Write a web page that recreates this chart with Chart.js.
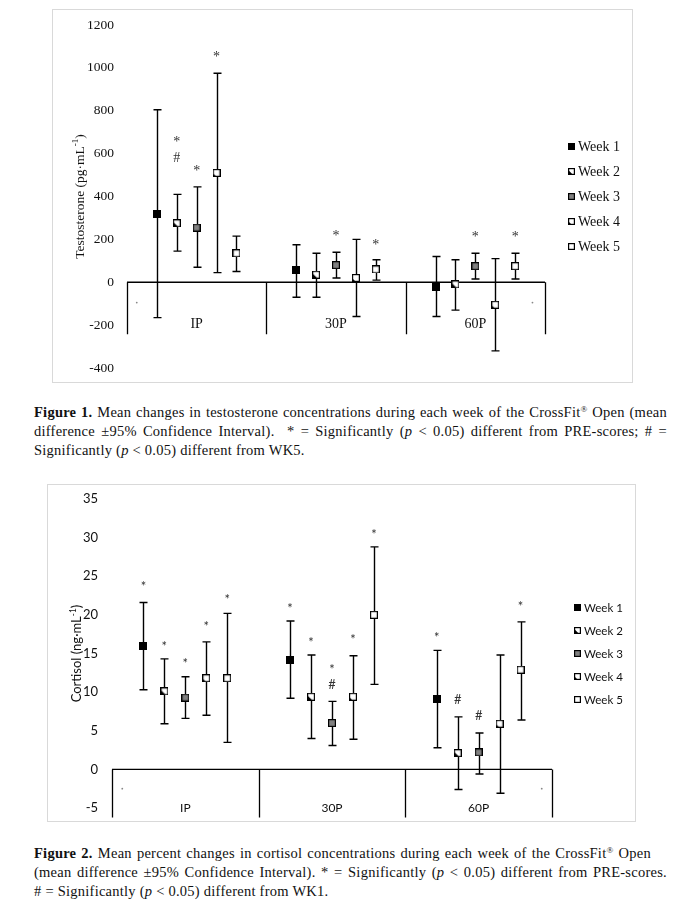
<!DOCTYPE html>
<html>
<head>
<meta charset="utf-8">
<script src="https://cdn.jsdelivr.net/npm/chart.js@4.4.1/dist/chart.umd.min.js"></script>
<style>
  body { margin: 0; background: #fff; width: 681px; height: 912px; position: relative; overflow: hidden; }
  canvas { position: absolute; }
  #fig1 { left: 52px; top: 9px; }
  #fig2 { left: 47px; top: 484px; }
  .cap { position: absolute; left: 34px; width: 633px; font-family: 'Liberation Serif', serif; font-size: 14.5px; letter-spacing: 0.25px; line-height: 19px; color: #111; }
  .cap div { text-align: justify; text-align-last: justify; white-space: nowrap; }
  .cap div.last { text-align-last: left; }
  .cap sup { font-size: 9px; line-height: 0; vertical-align: 5px; }
</style>
</head>
<body>
<canvas id="fig1" width="581" height="374"></canvas>
<div class="cap" style="top: 403px;">
  <div><b>Figure 1.</b> Mean changes in testosterone concentrations during each week of the CrossFit<sup>®</sup> Open (mean</div>
  <div>difference ±95% Confidence Interval).&nbsp; * = Significantly (<i>p</i> &lt; 0.05) different from PRE-scores; # =</div>
  <div class="last">Significantly (<i>p</i> &lt; 0.05) different from WK5.</div>
</div>
<canvas id="fig2" width="589" height="338"></canvas>
<div class="cap" style="top: 844px;">
  <div style="width: 617px;"><b>Figure 2.</b> Mean percent changes in cortisol concentrations during each week of the CrossFit<sup>®</sup> Open</div>
  <div>(mean difference ±95% Confidence Interval). * = Significantly (<i>p</i> &lt; 0.05) different from PRE-scores.</div>
  <div class="last"># = Significantly (<i>p</i> &lt; 0.05) different from WK1.</div>
</div>
<script>
const categories = ['IP', '30P', '60P'];
const weeks = ['Week 1', 'Week 2', 'Week 3', 'Week 4', 'Week 5'];

// Figure 1: testosterone (pg/mL), rows = weeks, columns = IP / 30P / 60P
const testoMean = [
  [320, 55, -20],
  [275, 35, -10],
  [255, 80, 75],
  [510, 20, -105],
  [135, 60, 75]
];
const testoUpper = [
  [805, 175, 120],
  [410, 135, 105],
  [445, 140, 135],
  [975, 200, 110],
  [215, 105, 135]
];
const testoLower = [
  [-165, -70, -160],
  [145, -70, -130],
  [70, 20, 15],
  [45, -160, -320],
  [50, 10, 15]
];
const testoTicks = [-400, -200, 0, 200, 400, 600, 800, 1000, 1200];
// [category, week, mark, value]
const testoSig = [
  ['IP', 2, '*', 668], ['IP', 2, '#', 584], ['IP', 3, '*', 533], ['IP', 4, '*', 1066],
  ['30P', 3, '*', 228], ['30P', 5, '*', 186],
  ['60P', 3, '*', 223], ['60P', 5, '*', 223]
];
const testoDots = [{ x: -0.43, y: -95 }, { x: 2.41, y: -95 }];

// Figure 2: cortisol (ng/mL)
const cortMean = [
  [16.0, 14.2, 9.1],
  [10.1, 9.4, 2.1],
  [9.3, 6.0, 2.2],
  [11.8, 9.4, 5.9],
  [11.8, 20.0, 12.9]
];
const cortUpper = [
  [21.6, 19.2, 15.4],
  [14.3, 14.8, 6.8],
  [12.0, 8.8, 4.7],
  [16.5, 14.7, 14.8],
  [20.2, 28.8, 19.1]
];
const cortLower = [
  [10.3, 9.2, 2.8],
  [5.9, 4.0, -2.6],
  [6.6, 3.1, -0.6],
  [7.0, 3.9, -3.1],
  [3.5, 11.0, 6.4]
];
const cortTicks = [-5, 0, 5, 10, 15, 20, 25, 30, 35];
const cortSig = [
  ['IP', 1, '*', 24.1], ['IP', 2, '*', 16.3], ['IP', 3, '*', 14.1], ['IP', 4, '*', 18.9], ['IP', 5, '*', 22.4],
  ['30P', 1, '*', 21.2], ['30P', 2, '*', 16.8], ['30P', 3, '*', 13.3], ['30P', 3, '#', 11.0],
  ['30P', 4, '*', 17.2], ['30P', 5, '*', 30.8],
  ['60P', 1, '*', 17.4], ['60P', 2, '#', 9.1], ['60P', 3, '#', 7.1], ['60P', 5, '*', 21.5]
];
const cortDots = [{ x: -0.43, y: -2.5 }, { x: 2.43, y: -2.5 }];

// week w (0-based) sits at a fixed offset inside its category
const weekX = (cat, w) => cat + (w - 2) / 7;

function makeMarker(kind, size) {
  const c = document.createElement('canvas');
  c.width = size; c.height = size;
  const g = c.getContext('2d');
  g.fillStyle = kind === 0 ? '#000' : kind === 2 ? '#808080' : '#fff';
  g.fillRect(0, 0, size, size);
  g.fillStyle = '#000';
  if (kind === 1) {
    g.beginPath(); g.moveTo(1, size - 1); g.lineTo(1, size * 0.4); g.lineTo(size * 0.6, size - 1); g.fill();
  }
  if (kind === 3) {
    g.beginPath(); g.moveTo(1, size - 1); g.lineTo(1, size - 3); g.lineTo(3, size - 1); g.fill();
  }
  g.strokeStyle = '#000';
  g.lineWidth = 1.2;
  g.strokeRect(0.6, 0.6, size - 1.2, size - 1.2);
  return c;
}

function drawTitle(ctx, x, yc, parts, font, supFont) {
  ctx.save();
  ctx.translate(x, yc);
  ctx.rotate(-Math.PI / 2);
  ctx.textBaseline = 'middle';
  ctx.textAlign = 'left';
  let total = 0;
  parts.forEach(([t, sup]) => { ctx.font = sup ? supFont : font; total += ctx.measureText(t).width; });
  let px = -total / 2;
  parts.forEach(([t, sup]) => {
    ctx.font = sup ? supFont : font;
    ctx.fillText(t, px, sup ? -4 : 0);
    px += ctx.measureText(t).width;
  });
  ctx.restore();
}

function buildChart(id, s) {
  const markers = [0, 1, 2, 3, 4].map(k => makeMarker(k, s.marker));
  const sets = weeks.map((name, w) => ({
    label: name,
    data: categories.map((c, i) => ({ x: weekX(i, w), y: s.mean[w][i] })),
    pointStyle: markers[w],
    pointRadius: s.marker / 2
  }));
  sets.push({ label: 'dots', data: s.dots, pointStyle: 'circle', pointRadius: 0.9, backgroundColor: '#888', borderWidth: 0 });

  const decor = {
    id: 'decor',
    beforeDraw(chart) {
      const ctx = chart.ctx;
      ctx.save();
      ctx.strokeStyle = '#d9d9d9';
      ctx.lineWidth = 1;
      ctx.strokeRect(0.5, 0.5, chart.width - 1, chart.height - 1);
      ctx.restore();
    },
    beforeDatasetsDraw(chart) {
      const ctx = chart.ctx, xs = chart.scales.x, ys = chart.scales.y;
      const y0 = ys.getPixelForValue(0);
      ctx.save();
      ctx.strokeStyle = '#000';
      ctx.lineWidth = 1.3;
      ctx.beginPath();
      ctx.moveTo(xs.getPixelForValue(-0.5), y0);
      ctx.lineTo(xs.getPixelForValue(2.5), y0);
      for (let i = 0; i <= categories.length; i++) {
        const x = Math.round(xs.getPixelForValue(i - 0.5)) + 0.5;
        ctx.moveTo(x, y0);
        ctx.lineTo(x, y0 + s.sepLen);
      }
      ctx.stroke();
      ctx.fillStyle = '#111';
      ctx.font = s.catFont;
      ctx.textAlign = 'center';
      ctx.textBaseline = 'middle';
      categories.forEach((c, i) => ctx.fillText(c, xs.getPixelForValue(i), y0 + s.catOffset));

      // 95% CI bars
      ctx.lineWidth = 1.4;
      ctx.beginPath();
      weeks.forEach((name, w) => {
        categories.forEach((c, i) => {
          const x = Math.round(xs.getPixelForValue(weekX(i, w))) + 0.5;
          const yu = ys.getPixelForValue(s.upper[w][i]);
          const yl = ys.getPixelForValue(s.lower[w][i]);
          ctx.moveTo(x, yu); ctx.lineTo(x, yl);
          ctx.moveTo(x - s.cap, yu); ctx.lineTo(x + s.cap, yu);
          ctx.moveTo(x - s.cap, yl); ctx.lineTo(x + s.cap, yl);
        });
      });
      ctx.stroke();
      ctx.restore();
    },
    afterDatasetsDraw(chart) {
      const ctx = chart.ctx, xs = chart.scales.x, ys = chart.scales.y;
      ctx.save();
      ctx.fillStyle = '#333';
      ctx.font = s.sigFont;
      ctx.textAlign = 'center';
      ctx.textBaseline = 'alphabetic';
      s.sig.forEach(([cat, wk, mark, val]) => {
        const m = ctx.measureText(mark);
        const x = xs.getPixelForValue(weekX(categories.indexOf(cat), wk - 1));
        const y = ys.getPixelForValue(val) + (m.actualBoundingBoxAscent - m.actualBoundingBoxDescent) / 2;
        ctx.fillText(mark, x, y);
      });
      ctx.restore();
    },
    afterDraw(chart) {
      const ctx = chart.ctx, area = chart.chartArea;
      const mid = (area.top + area.bottom) / 2;
      ctx.save();
      ctx.fillStyle = '#111';
      ctx.textAlign = 'left';
      ctx.textBaseline = 'middle';
      ctx.font = s.legendFont;
      weeks.forEach((name, w) => {
        const y = mid + (w - 2) * s.legendStep;
        const lm = s.legendMarker;
        ctx.drawImage(makeMarker(w, lm), Math.round(s.legendX - lm / 2), Math.round(y - lm / 2));
        ctx.fillText(name, s.legendTextX, y + 0.5);
      });
      drawTitle(ctx, s.titleX, mid, s.title, s.titleFont, s.supFont);
      ctx.restore();
    }
  };

  return new Chart(document.getElementById(id), {
    type: 'scatter',
    data: { datasets: sets },
    options: {
      responsive: false,
      animation: false,
      layout: { padding: { left: 0, top: s.area.top, right: s.area.right, bottom: s.area.bottom } },
      plugins: { legend: { display: false }, tooltip: { enabled: false } },
      scales: {
        x: { type: 'linear', display: false, min: -0.5, max: 2.5 },
        y: {
          min: s.ticks[0],
          max: s.ticks[s.ticks.length - 1],
          grid: { display: false, drawTicks: false },
          border: { display: false },
          ticks: {
            stepSize: s.ticks[1] - s.ticks[0],
            padding: s.tickPad,
            color: '#111',
            font: s.tickFont,
            callback: v => String(v)
          },
          afterFit(scale) {
            scale.width = s.axisW;
            // tick padding would otherwise push the plot area in from top and bottom
            scale.paddingTop = 0;
            scale.paddingBottom = 0;
          }
        }
      }
    },
    plugins: [decor]
  });
}

buildChart('fig1', {
  mean: testoMean, upper: testoUpper, lower: testoLower, ticks: testoTicks, sig: testoSig, dots: testoDots,
  area: { top: 16, right: 88, bottom: 15 },
  axisW: 75, tickPad: 13,
  tickFont: { family: "'Liberation Serif', serif", size: 13.5 },
  catFont: "14px 'Liberation Serif', serif",
  sigFont: "14px 'Liberation Serif', serif",
  legendFont: "14px 'Liberation Serif', serif",
  titleFont: "13.5px 'Liberation Serif', serif",
  supFont: "9px 'Liberation Serif', serif",
  title: [['Testosterone (pg·mL', false], ['-1', true], [')', false]],
  titleX: 28,
  marker: 8, legendMarker: 7, cap: 4,
  sepLen: 52, catOffset: 42,
  legendX: 519, legendTextX: 526, legendStep: 25
});

buildChart('fig2', {
  mean: cortMean, upper: cortUpper, lower: cortLower, ticks: cortTicks, sig: cortSig, dots: cortDots,
  area: { top: 15, right: 84, bottom: 14 },
  axisW: 65, tickPad: 14,
  tickFont: { family: "Lato, sans-serif", size: 13 },
  catFont: "12px Lato, sans-serif",
  sigFont: "13px Lato, sans-serif",
  legendFont: "11.5px Lato, sans-serif",
  titleFont: "13px Lato, sans-serif",
  supFont: "8.5px Lato, sans-serif",
  title: [['Cortisol (ng·mL', false], ['-1', true], [')', false]],
  titleX: 30,
  marker: 8, legendMarker: 7, cap: 4,
  sepLen: 48, catOffset: 39,
  legendX: 530, legendTextX: 537, legendStep: 23
});
</script>
</body>
</html>
